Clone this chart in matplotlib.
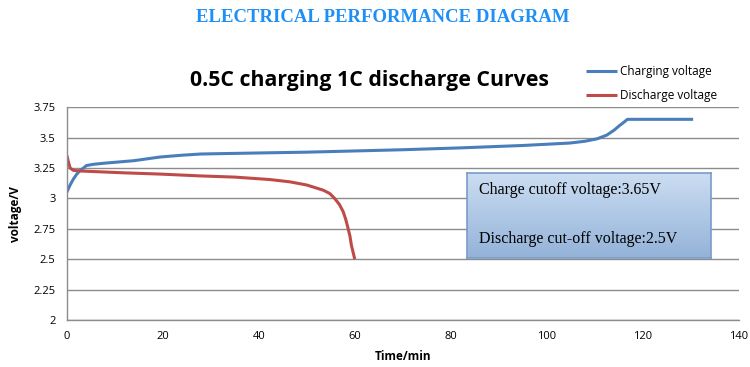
import matplotlib.pyplot as plt
import numpy as np

# charging curve (blue)
charge_t = [0, 0.7, 1.4, 2.1, 2.8, 3.5, 4.1, 5.5, 8, 11, 14, 19.4, 24, 28, 35, 42.3, 50, 60, 70,
            81.9, 95, 104.8, 108, 110.5, 112.5, 114, 115.2, 116.2, 116.8, 120, 125, 130.5]
charge_v = [3.05, 3.11, 3.16, 3.20, 3.23, 3.25, 3.27, 3.28, 3.29, 3.30, 3.31, 3.34, 3.355, 3.365,
            3.37, 3.375, 3.38, 3.39, 3.40, 3.415, 3.435, 3.455, 3.47, 3.49, 3.52, 3.56, 3.60,
            3.63, 3.65, 3.65, 3.65, 3.65]

# discharge curve (red)
dis_t = [0, 0.35, 0.7, 1.4, 3, 6, 12, 19.4, 27.7, 35, 42.3, 46.5, 50, 53.4, 54.8, 55.8, 56.8,
         57.6, 58.1, 58.6, 59.0, 59.3, 59.7, 60.0]
dis_v = [3.355, 3.30, 3.25, 3.23, 3.225, 3.22, 3.21, 3.20, 3.185, 3.175, 3.155, 3.136, 3.11,
         3.068, 3.04, 3.00, 2.95, 2.89, 2.83, 2.755, 2.69, 2.615, 2.55, 2.50]

x_ticks = [0, 20, 40, 60, 80, 100, 120, 140]
y_ticks = [2, 2.25, 2.5, 2.75, 3, 3.25, 3.5, 3.75]
y_labels = ["2", "2.25", "2.5", "2.75", "3", "3.25", "3.5", "3.75"]

sans = ["Open Sans", "DejaVu Sans"]
serif = ["Liberation Serif", "DejaVu Serif"]

fig = plt.figure(figsize=(7.5, 3.67), dpi=100)
ax = fig.add_axes([0.089, 0.128, 0.896, 0.580])

ax.plot(charge_t, charge_v, color="#4a7ebb", lw=2.2, label="Charging voltage", solid_capstyle="butt")
ax.plot(dis_t, dis_v, color="#be4b48", lw=2.2, label="Discharge voltage", solid_capstyle="butt")

ax.set_xlim(0, 140)
ax.set_ylim(2, 3.75)
ax.set_xticks(x_ticks)
ax.set_yticks(y_ticks)
ax.set_yticklabels(y_labels)
ax.tick_params(length=0, labelsize=8, colors="#000000", pad=8)
for lab in ax.get_xticklabels() + ax.get_yticklabels():
    lab.set_family(sans)
ax.grid(axis="y", color="#8c8c8c", lw=1)
ax.set_axisbelow(True)
for s in ["top", "right"]:
    ax.spines[s].set_visible(False)
for s in ["left", "bottom"]:
    ax.spines[s].set_color("#8c8c8c")
    ax.spines[s].set_linewidth(1)

ax.set_xlabel("Time/min", family=sans, fontsize=8.5, fontweight="bold", labelpad=6)
ax.set_ylabel("voltage/V", family=sans, fontsize=8.5, fontweight="bold", labelpad=8)

ax.legend(loc="upper left", bbox_to_anchor=(0.775, 0.835), bbox_transform=fig.transFigure,
          frameon=False, prop={"family": sans, "size": 8.5}, handlelength=2.6,
          labelspacing=0.9, handletextpad=0.3, borderaxespad=0)

fig.text(0.51, 0.951, "ELECTRICAL PERFORMANCE DIAGRAM", ha="center", va="center",
         family=serif, fontsize=13.5, fontweight="bold", color="#1e8ff5")
fig.text(0.493, 0.782, "0.5C charging 1C discharge Curves", ha="center", va="center",
         family=sans, fontsize=15.3, fontweight="bold", color="#000000")

# info box with vertical gradient
box = fig.add_axes([0.623, 0.297, 0.325, 0.232])
grad = np.linspace(0, 1, 100).reshape(-1, 1)
top_c = np.array([0.80, 0.87, 0.95])
bot_c = np.array([0.58, 0.70, 0.85])
img = top_c + (bot_c - top_c) * grad[:, :, None]
box.imshow(img, aspect="auto", extent=[0, 1, 0, 1], origin="upper")
box.set_xticks([])
box.set_yticks([])
for s in box.spines.values():
    s.set_color("#7a9cc8")
    s.set_linewidth(1.2)
box.text(0.05, 0.80, "Charge cutoff voltage:3.65V", transform=box.transAxes,
         family=serif, fontsize=11.5, va="center", ha="left")
box.text(0.05, 0.22, "Discharge cut-off voltage:2.5V", transform=box.transAxes,
         family=serif, fontsize=11.5, va="center", ha="left")

fig.savefig("out.png", dpi=100)
